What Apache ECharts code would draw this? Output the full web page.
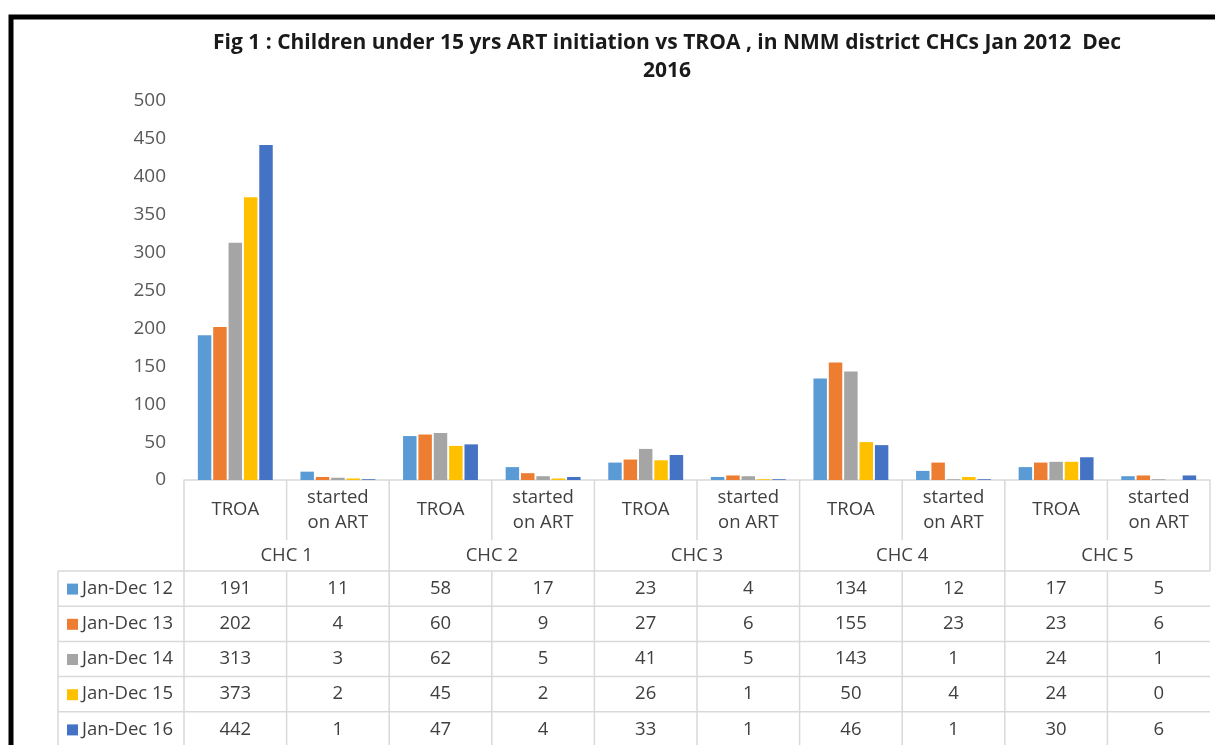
<!DOCTYPE html>
<html>
<head>
<meta charset="utf-8">
<script src="https://cdn.jsdelivr.net/npm/echarts@6/dist/echarts.min.js"></script>
<style>
  html, body { margin: 0; padding: 0; background: #fff; }
  #chart { width: 1215px; height: 745px; }
</style>
</head>
<body>
<div id="chart"></div>
<script>
// sub-categories and groups of the x axis
const subLabels = ['TROA', 'started\non ART', 'TROA', 'started\non ART', 'TROA', 'started\non ART', 'TROA', 'started\non ART', 'TROA', 'started\non ART']
const groups = ['CHC 1', 'CHC 2', 'CHC 3', 'CHC 4', 'CHC 5']
const seriesNames = ['Jan-Dec 12', 'Jan-Dec 13', 'Jan-Dec 14', 'Jan-Dec 15', 'Jan-Dec 16']
const colors = ['#5B9BD5', '#ED7D31', '#A5A5A5', '#FFC000', '#4472C4']

// values, one array per year
const jan12 = [191, 11, 58, 17, 23, 4, 134, 12, 17, 5]
const jan13 = [202, 4, 60, 9, 27, 6, 155, 23, 23, 6]
const jan14 = [313, 3, 62, 5, 41, 5, 143, 1, 24, 1]
const jan15 = [373, 2, 45, 2, 26, 1, 50, 4, 24, 0]
const jan16 = [442, 1, 47, 4, 33, 1, 46, 1, 30, 6]
const allValues = [jan12, jan13, jan14, jan15, jan16]

const yTicks = { min: 0, max: 500, interval: 50 }

const FONT = 'Open Sans'
const textColor = '#404040'
const lineColor = '#d9d9d9'

const myChart = echarts.init(document.getElementById('chart'))

const option = {
  animation: false,
  title: {
    text: 'Fig 1 : Children under 15 yrs ART initiation vs TROA , in NMM district CHCs Jan 2012  Dec\n2016',
    left: 662,
    top: 24,
    textAlign: 'center',
    textStyle: { fontFamily: FONT, fontWeight: 'bold', fontSize: 21, color: '#1a1a1a', lineHeight: 28 }
  },
  grid: { left: 184, right: 5, top: 101, bottom: 265 },
  xAxis: {
    type: 'category',
    data: subLabels,
    axisLabel: { show: false },
    axisTick: { show: false },
    axisLine: { lineStyle: { color: lineColor, width: 1.5 } }
  },
  yAxis: {
    type: 'value',
    min: yTicks.min,
    max: yTicks.max,
    interval: yTicks.interval,
    splitLine: { show: false },
    axisLine: { show: false },
    axisTick: { show: false },
    axisLabel: { color: '#595959', fontFamily: FONT, fontSize: 19, margin: 18 }
  },
  series: seriesNames.map((name, i) => ({
    name: name,
    type: 'bar',
    data: allValues[i],
    barCategoryGap: '27%',
    barGap: '14%',
    itemStyle: { color: colors[i] }
  }))
}
myChart.setOption(option)

// data table under the plot, laid out from the axis scale
function buildTable() {
  const x0 = myChart.convertToPixel({ xAxisIndex: 0 }, 0)
  const x1 = myChart.convertToPixel({ xAxisIndex: 0 }, 1)
  const band = x1 - x0
  const left = x0 - band / 2
  const right = left + band * subLabels.length
  const top = myChart.convertToPixel({ yAxisIndex: 0 }, 0)
  const subH = 60, groupH = 31, rowH = 35.2
  const rowsTop = top + subH + groupH
  const legendLeft = 58
  const els = []
  const line = (xa, ya, xb, yb) => els.push({
    type: 'line', silent: true,
    shape: { x1: xa, y1: ya, x2: xb, y2: yb },
    style: { stroke: lineColor, lineWidth: 1.5 }
  })
  const text = (t, x, y, align) => els.push({
    type: 'text', silent: true, x: x, y: y,
    style: { text: t, fill: textColor, font: '18.5px "' + FONT + '"', align: align || 'center', verticalAlign: 'middle', lineHeight: 25 }
  })

  // header frame
  line(left, top, left, rowsTop)
  for (let c = 1; c <= subLabels.length; c++) {
    const x = left + band * c
    if (c % 2 === 0) line(x, top, x, rowsTop)
    else line(x, top, x, top + subH)
  }
  subLabels.forEach((s, c) => text(s, left + band * (c + 0.5), top + subH / 2))
  groups.forEach((g, k) => text(g, left + band * (2 * k + 1), top + subH + groupH / 2))

  // data rows
  for (let r = 0; r <= seriesNames.length; r++) {
    line(legendLeft, rowsTop + rowH * r, right, rowsTop + rowH * r)
  }
  const bottom = rowsTop + rowH * seriesNames.length
  line(legendLeft, rowsTop, legendLeft, bottom)
  for (let c = 0; c < subLabels.length; c++) {
    line(left + band * c, rowsTop, left + band * c, bottom)
  }
  seriesNames.forEach((name, r) => {
    const cy = rowsTop + rowH * (r + 0.5)
    els.push({
      type: 'rect', silent: true,
      shape: { x: 67, y: cy - 5, width: 11, height: 11 },
      style: { fill: colors[r] }
    })
    text(name, 82, cy, 'left')
    allValues[r].forEach((v, c) => text(String(v), left + band * (c + 0.5), cy))
  })

  // black frame of the figure
  els.push({
    type: 'polyline', silent: true,
    shape: { points: [[11, 760], [11, 17], [1230, 17]] },
    style: { stroke: '#000', lineWidth: 5, fill: null }
  })
  myChart.setOption({ graphic: els })
}
buildTable()
</script>
</body>
</html>
